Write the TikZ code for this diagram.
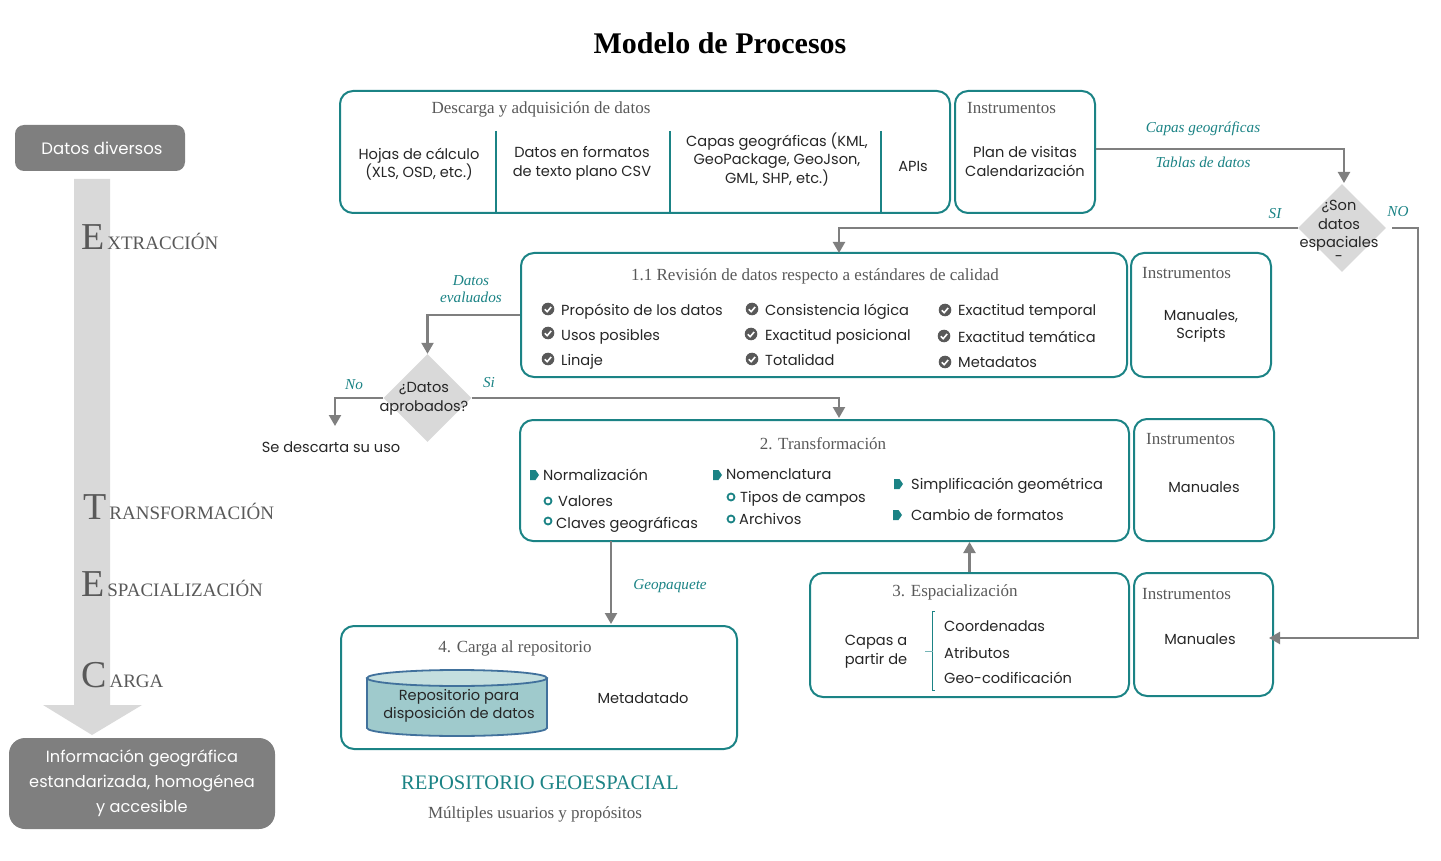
\documentclass[tikz,border=0pt]{standalone}
\usepackage{fontspec}
\setmainfont{Liberation Serif}
\newfontfamily\bodyfont{Poppins}
\usetikzlibrary{arrows.meta,shapes.geometric}
\definecolor{tealline}{HTML}{1B8385}
\definecolor{greyfill}{HTML}{7F7F7F}
\definecolor{greylight}{HTML}{D9D9D9}
\definecolor{greytext}{HTML}{595959}
\definecolor{bodytext}{HTML}{262626}
\definecolor{cylbody}{HTML}{9FCACC}
\definecolor{cyltop}{HTML}{C4DFDF}
\definecolor{cylline}{HTML}{41719C}
\tikzset{
    box/.style 2 args = {
        draw=tealline,
        line width=2pt,
        rounded corners=13pt,
        minimum width=#1pt,
        minimum height=#2pt,
    },
    darkbox/.style 2 args = {
        fill=greyfill,
        rounded corners=#2pt,
        minimum width=#1pt,
        text=white,
        align=center,
        inner sep=0pt,
    },
    decision/.style = {
        diamond,
        aspect=1,
        fill=greylight,
        minimum width=88pt,
        minimum height=88pt,
        inner sep=0pt,
    },
    item/.style = {
        font=\bodyfont\fontsize{14.6}{18.5}\selectfont,
        text=bodytext,
        align=center,
        inner sep=0pt,
    },
    line/.style = {
        item,
        anchor=west,
        text height=13pt,
        text depth=3pt,
    },
    head/.style = {
        font=\fontsize{17}{20}\selectfont,
        text=greytext,
        text height=13pt,
        text depth=3pt,
        inner sep=0pt,
    },
    note/.style = {
        font=\itshape\fontsize{15.2}{17}\selectfont,
        text=tealline,
        align=center,
        inner sep=0pt,
    },
    stage/.style = {
        anchor=base west,
        text=greytext,
        inner sep=0pt,
    },
    flow/.style = {
        draw=greyfill,
        line width=2.2pt,
        -{Triangle[length=11pt,width=12pt]},
    },
    tick/.pic = {
        \fill[greytext] (0,0) circle (6.3);
        \draw[white,line width=1.6pt] (-3.2,0.2) -- (-0.8,2.6) -- (3.2,-2);
    },
    mark/.pic = {
        \fill[tealline] (-4.5,-5) -- (1,-5) -- (4.5,0) -- (1,5) -- (-4.5,5) -- cycle;
    },
    ring/.pic = {
        \draw[tealline,line width=1.8pt] (0,0) circle (3.5);
    },
}
\newcommand\bigletter[2]{{\fontsize{38}{38}\selectfont #1}\kern3pt{\fontsize{19}{19}\selectfont #2}}

\begin{document}
\begin{tikzpicture}[x=1pt,y=-1pt]
    \useasboundingbox (0,0) rectangle (1441,861);

    % Title
    \node[font=\bfseries\fontsize{30}{34}\selectfont,inner sep=0pt] (title) at (720,43) {Modelo de Procesos};

    % Left column
    \fill[greylight] (74,179) -- (110,179) -- (110,705) -- (142,705) -- (92,735) -- (43,705) -- (74,705) -- cycle;
    \node[darkbox={170}{9},minimum height=46pt,font=\bodyfont\fontsize{16.5}{20}\selectfont] (input) at (100,148) {\hspace{4pt}Datos diversos};
    \node[darkbox={266}{16},minimum height=91pt,font=\bodyfont\fontsize{16.2}{25}\selectfont] (output) at (142,783.5) {\raisebox{-1pt}{Informaci\'on geogr\'afica}\hspace{4pt}\\\raisebox{-1pt}{estandarizada, homog\'enea}\hspace{4pt}\\\raisebox{-1pt}{y accesible}\hspace{4pt}};
    \node[stage] (stageE) at (81,250) {\bigletter{E}{XTRACCI\'ON}};
    \node[stage] (stageT) at (83,519) {\bigletter{T}{RANSFORMACI\'ON}};
    \node[stage] (stageS) at (81,596) {\bigletter{E}{SPACIALIZACI\'ON}};
    \node[stage] (stageC) at (81,687) {\bigletter{C}{ARGA}};

    % Boxes
    \node[box={610}{122}] (download) at (645,152) {};
    \node[box={140}{122}] (toolA) at (1025,152) {};
    \node[box={606}{124}] (review) at (824,315) {};
    \node[box={140}{124}] (toolB) at (1201,315) {};
    \node[box={609}{121}] (transform) at (824.5,480.5) {};
    \node[box={140}{122}] (toolC) at (1204,480) {};
    \node[box={319}{124}] (spatial) at (969.5,635) {};
    \node[box={139}{123}] (toolD) at (1203.5,634.5) {};
    \node[box={396}{123}] (load) at (539,687.5) {};
    \node[decision] (isspatial) at (1342,228) {};
    \node[decision] (approved) at (427.5,398) {};

    % Download
    \draw[tealline,line width=2pt] (496,131) -- (496,213) (670,131) -- (670,213) (881,131) -- (881,213);
    \node[head] (downloadhead) at (541,109) {Descarga y adquisici\'on de datos};
    \node[item] (sheets) at (419,164) {Hojas de c\'alculo\\(XLS, OSD, etc.)};
    \node[item] (plain) at (582,163.5) {Datos en formatos\\de texto plano CSV};
    \node[item] (layers) at (777,159.5) {Capas geogr\'aficas (KML,\\GeoPackage, GeoJson,\\GML, SHP, etc.)};
    \node[item] (apis) at (913,166) {APIs};
    \node[head,anchor=west] (toolAhead) at (967,109) {Instrumentos};
    \node[item] (toolAtext) at (1025,161.5) {Plan de visitas\\Calendarizaci\'on};

    % Review
    \node[head] (reviewhead) at (815,275) {1.1 Revisi\'on de datos respecto a est\'andares de calidad};
    \pic at (548,309) {tick};
    \pic at (548,333) {tick};
    \pic at (548,359) {tick};
    \pic at (752,309) {tick};
    \pic at (751,334) {tick};
    \pic at (752,359) {tick};
    \pic at (945,310) {tick};
    \pic at (944,336) {tick};
    \pic at (945,362) {tick};
    \node[line] (purpose) at (561,310) {Prop\'osito de los datos};
    \node[line] (uses) at (561,335) {Usos posibles};
    \node[line] (lineage) at (561,360) {Linaje};
    \node[line] (logic) at (765,310) {Consistencia l\'ogica};
    \node[line] (position) at (765,335) {Exactitud posicional};
    \node[line] (total) at (765,360) {Totalidad};
    \node[line] (temporal) at (958,311) {Exactitud temporal};
    \node[line] (theme) at (958,337) {Exactitud tem\'atica};
    \node[line] (meta) at (958,362) {Metadatos};
    \node[head,anchor=west] (toolBhead) at (1142,274) {Instrumentos};
    \node[item] (toolBtext) at (1201,326) {Manuales,\\Scripts};

    % Transformation
    \node[head] (transformhead) at (823,444) {2. Transformaci\'on};
    \pic at (534.5,475) {mark};
    \pic at (717.5,475) {mark};
    \pic at (898.5,484) {mark};
    \pic at (897.5,515) {mark};
    \pic at (548,501) {ring};
    \pic at (548,521) {ring};
    \pic at (731,497) {ring};
    \pic at (731,519) {ring};
    \node[line] (normal) at (543,475) {Normalizaci\'on};
    \node[line] (values) at (558,501) {Valores};
    \node[line] (keys) at (556,523) {Claves geogr\'aficas};
    \node[line] (names) at (726,474) {Nomenclatura};
    \node[line] (fields) at (740,497) {Tipos de campos};
    \node[line] (files) at (739,519) {Archivos};
    \node[line] (simplify) at (911,484) {Simplificaci\'on geom\'etrica};
    \node[line] (formats) at (911,515) {Cambio de formatos};
    \node[head,anchor=west] (toolChead) at (1146,439) {Instrumentos};
    \node[item] (toolCtext) at (1204,487) {Manuales};

    % Spatialization
    \node[head] (spatialhead) at (955,591) {3. Espacializaci\'on};
    \node[item] (layersfrom) at (876,651.5) {Capas a\\partir de};
    \draw[tealline,line width=1pt] (935,611.5) -- (932.5,611.5) -- (932.5,690) -- (935,690);
    \draw[tealline!60,line width=1pt] (925,651) -- (932.5,651);
    \node[line] (coords) at (944,626) {Coordenadas};
    \node[line] (attrs) at (944,653) {Atributos};
    \node[line] (geocode) at (944,678) {Geo-codificaci\'on};
    \node[head,anchor=west] (toolDhead) at (1142,594) {Instrumentos};
    \node[item] (toolDtext) at (1200,639) {Manuales};

    % Load
    \node[head] (loadhead) at (515,647) {4. Carga al repositorio};
    \draw[cylline,line width=1.8pt,fill=cylbody] (367,678) -- (367,728) arc[start angle=180,end angle=360,x radius=90,y radius=-8] -- (547,678);
    \draw[cylline,line width=1.8pt,fill=cyltop] (457,678) ellipse (90 and 8);
    \node[item] (repo) at (459,706) {Repositorio para\\disposici\'on de datos};
    \node[item] (metadata) at (643,698) {Metadatado};
    \node[font=\fontsize{20.6}{24}\selectfont,text=tealline,inner sep=0pt] (repotitle) at (540,783) {REPOSITORIO GEOESPACIAL};
    \node[head] (reposub) at (535,813) {M\'ultiples usuarios y prop\'ositos};

    % Decisions
    \node[item] (isspatialtext) at (1339,231) {\textquestiondown Son\\datos\\espaciales\\[-5pt]-};
    \node[item] (approvedtext) at (424,399) {\textquestiondown Datos\\aprobados?};
    \node[item] (discard) at (331,447) {Se descarta su uso};

    % Connectors
    \coordinate (reviewin) at (839,253);
    \coordinate (transformin) at (839,418);
    \coordinate (loadin) at (611,624);
    \coordinate (toolDin) at (1269,638);
    \coordinate (discardin) at (335,426);
    \coordinate (transformout) at (611,541);
    \coordinate (noturn) at (1418,228);
    \coordinate (noturnb) at (1418,638);
    \draw[flow] (toolA.east |- 0,149) -| (1344,183);
    \draw[flow] (isspatial.west) -| (reviewin);
    \draw[flow] (1392,228) -- (noturn) -- (noturnb) -- (toolDin);
    \draw[flow] (review.west) -| (approved.north);
    \draw[flow] (approved.west) -| (discardin);
    \draw[flow] (approved.east) -| (transformin);
    \draw[flow] (transformout) -- (loadin);
    \draw[flow] (spatial.north) -- (spatial.north |- transform.south);

    % Connector labels
    \node[note] (noteA) at (1203,129) {Capas geogr\'aficas};
    \node[note] (noteB) at (1203,162) {Tablas de datos};
    \node[note] (noteSI) at (1275,214) {SI};
    \node[note] (noteNO) at (1398,212) {NO};
    \node[note] (noteeval) at (471,289) {Datos\\evaluados};
    \node[note] (noteNo) at (354,385) {No};
    \node[note] (noteSi) at (489,383) {Si};
    \node[note] (notegeo) at (670,586) {Geopaquete};
\end{tikzpicture}
\end{document}
